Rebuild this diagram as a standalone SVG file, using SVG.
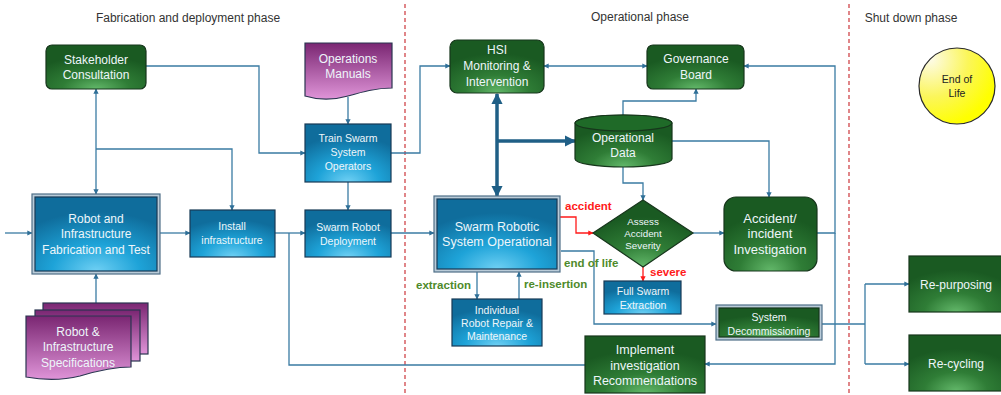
<svg xmlns="http://www.w3.org/2000/svg" width="1001" height="395" viewBox="0 0 1001 395">
<defs>
<radialGradient id="gG" cx="50%" cy="100%" r="75%" fx="50%" fy="100%">
<stop offset="0" stop-color="#63b86a"/><stop offset="0.45" stop-color="#2f7d36"/><stop offset="1" stop-color="#1a5a22"/>
</radialGradient>
<radialGradient id="bG" cx="50%" cy="100%" r="80%" fx="50%" fy="100%">
<stop offset="0" stop-color="#6fd0f4"/><stop offset="0.45" stop-color="#1ea3d8"/><stop offset="1" stop-color="#0f6d9c"/>
</radialGradient>
<linearGradient id="pG" x1="0" y1="0" x2="0" y2="1">
<stop offset="0" stop-color="#7a2672"/><stop offset="1" stop-color="#df94d8"/>
</linearGradient>
<radialGradient id="yG" cx="15%" cy="15%" r="90%">
<stop offset="0" stop-color="#fdfbe8"/><stop offset="0.55" stop-color="#fbf65a"/><stop offset="1" stop-color="#ffff00"/>
</radialGradient>
<marker id="a" viewBox="0 0 10 10" refX="9" refY="5" markerWidth="4" markerHeight="4" orient="auto-start-reverse"><path d="M0,0 L10,5 L0,10 Z" fill="#2f6f97"/></marker>
<marker id="r" viewBox="0 0 10 10" refX="9" refY="5" markerWidth="4" markerHeight="4" orient="auto-start-reverse"><path d="M0,0 L10,5 L0,10 Z" fill="#ff1a1a"/></marker>
<marker id="t" viewBox="0 0 10 10" refX="9" refY="5" markerWidth="3.2" markerHeight="3.2" orient="auto-start-reverse"><path d="M0,0 L10,5 L0,10 Z" fill="#1f5f86"/></marker>
<style>
text{font-family:"Liberation Sans",Arial,sans-serif;text-anchor:middle}
.w{fill:#eef6fa;font-size:12px}
.ws{fill:#eef6fa;font-size:10.5px}
.gn{fill:url(#gG);stroke:#17361c;stroke-width:1.2}
.bl{fill:url(#bG);stroke:#183a55;stroke-width:1.2}
.pu{fill:url(#pG);stroke:#2a3550;stroke-width:1.2}
.c{fill:none;stroke:#3a7ba3;stroke-width:1.3}
.cr{fill:none;stroke:#ff1a1a;stroke-width:1.3}
.ct{fill:none;stroke:#1f5f86;stroke-width:3.5}
.ph{fill:#333;font-size:12px}
.lg{fill:#4e8a2b;font-size:11.5px;font-weight:bold;text-anchor:start}
.lr{fill:#ff1a1a;font-size:11.5px;font-weight:bold;text-anchor:start}
.dl{stroke:#d0454a;stroke-width:1.3;stroke-dasharray:4 3}
.ob{fill:#b9cbd8;stroke:#4f6f88;stroke-width:1.2}
</style>
</defs>
<rect width="1001" height="395" fill="#fff"/>
<line class="dl" x1="405" y1="4" x2="405" y2="395"/>
<line class="dl" x1="849" y1="4" x2="849" y2="395"/>
<text class="ph" x="188" y="22">Fabrication and deployment phase</text>
<text class="ph" x="640" y="21">Operational phase</text>
<text class="ph" x="911" y="22">Shut down phase</text>

<g id="connectors">
<path class="c" d="M5,233 H32" marker-end="url(#a)"/>
<path class="c" d="M160,233 H190" marker-end="url(#a)"/>
<path class="c" d="M96,89 V194" marker-start="url(#a)" marker-end="url(#a)"/>
<path class="c" d="M96,149 H232 V210" marker-end="url(#a)"/>
<path class="c" d="M96,303 V274" marker-end="url(#a)"/>
<path class="c" d="M146,66 H259 V153 H305" marker-end="url(#a)"/>
<path class="c" d="M348,97 V124" marker-end="url(#a)"/>
<path class="c" d="M348,182 V210" marker-end="url(#a)"/>
<path class="c" d="M275,233 H305" marker-end="url(#a)"/>
<path class="c" d="M585,365 H289 V233"/>
<path class="c" d="M391,153 H420 V66 H450" marker-end="url(#a)"/>
<path class="c" d="M391,233 H434" marker-end="url(#a)"/>
<path class="c" d="M544,66 H647" marker-start="url(#a)" marker-end="url(#a)"/>
<path class="ct" d="M497,94 V196" marker-start="url(#t)" marker-end="url(#t)"/>
<path class="ct" d="M497,141 H575" marker-end="url(#t)"/>
<path class="c" d="M623,115 V101 H696 V89" marker-end="url(#a)"/>
<path class="c" d="M672,141 H769 V197" marker-end="url(#a)"/>
<path class="c" d="M623,167 V183 H643 V200" marker-end="url(#a)"/>
<path class="cr" d="M560,217 H576 V233 H593" marker-end="url(#r)"/>
<path class="c" d="M693,233 H724" marker-end="url(#a)"/>
<path class="cr" d="M643,267 V281" marker-end="url(#r)"/>
<path class="c" d="M561,251 H594 V324 H716" marker-end="url(#a)"/>
<path class="c" d="M817,233 H835 V66 H744" marker-end="url(#a)"/>
<path class="c" d="M835,233 V364 H705" marker-end="url(#a)"/>
<path class="c" d="M477,272 V299" marker-end="url(#a)"/>
<path class="c" d="M519,299 V272" marker-end="url(#a)"/>
<path class="c" d="M822,324 H865"/>
<path class="c" d="M865,284 V364"/>
<path class="c" d="M865,284 H909" marker-end="url(#a)"/>
<path class="c" d="M865,364 H909" marker-end="url(#a)"/>
</g>

<g id="stakeholder">
<rect class="gn" x="46" y="45" width="100" height="44" rx="6"/>
<text class="w" x="96" y="64">Stakeholder</text><text class="w" x="96" y="79">Consultation</text>
</g>
<g id="ops-manuals">
<path class="pu" d="M305,43 H392 V88 C376,88 362,92 348,96 C334,100 318,100 305,96 Z"/>
<text class="w" x="348" y="63">Operations</text><text class="w" x="348" y="78">Manuals</text>
</g>
<g id="train">
<rect class="bl" x="305" y="124" width="86" height="58"/>
<text class="ws" x="348" y="142">Train Swarm</text><text class="ws" x="348" y="156">System</text><text class="ws" x="348" y="170">Operators</text>
</g>
<g id="fabrication">
<rect class="ob" x="32" y="194" width="128" height="80"/>
<rect class="bl" x="35" y="197" width="122" height="74" stroke="#0f2c42" stroke-width="2"/>
<text class="w" x="96" y="223">Robot and</text><text class="w" x="96" y="238">Infrastructure</text><text class="w" x="96" y="254">Fabrication and Test</text>
</g>
<g id="install">
<rect class="bl" x="190" y="210" width="85" height="47"/>
<text class="ws" x="232" y="230">Install</text><text class="ws" x="232" y="244">infrastructure</text>
</g>
<g id="deployment">
<rect class="bl" x="305" y="210" width="86" height="47"/>
<text class="ws" x="348" y="231">Swarm Robot</text><text class="ws" x="348" y="245">Deployment</text>
</g>
<g id="specifications">
<rect class="pu" x="43" y="303" width="105" height="51"/>
<rect class="pu" x="35" y="310" width="105" height="51"/>
<path class="pu" d="M26,316 H131 V367 C115,367 100,370 80,376 C60,381 42,380 26,377 Z"/>
<text class="w" x="78" y="336">Robot &amp;</text><text class="w" x="78" y="351">Infrastructure</text><text class="w" x="78" y="367">Specifications</text>
</g>
<g id="hsi">
<rect class="gn" x="450" y="40" width="94" height="53" rx="7"/>
<text class="w" x="497" y="54">HSI</text><text class="w" x="497" y="70">Monitoring &amp;</text><text class="w" x="497" y="86">Intervention</text>
</g>
<g id="governance">
<rect class="gn" x="647" y="45" width="97" height="44" rx="6"/>
<text class="w" x="696" y="63">Governance</text><text class="w" x="696" y="79">Board</text>
</g>
<g id="operational-data">
<path class="gn" d="M575,123 V159 A48.5,8 0 0 0 672,159 V123 A48.5,8 0 0 0 575,123 Z"/>
<ellipse cx="623.5" cy="123" rx="48.5" ry="8" fill="#1f6a28" stroke="#17361c" stroke-width="1.2"/>
<text class="w" x="623" y="142">Operational</text><text class="w" x="623" y="157">Data</text>
</g>
<g id="swarm-operational">
<rect class="ob" x="434" y="196" width="126" height="76"/>
<rect class="bl" x="437" y="199" width="120" height="70" stroke="#0f2c42" stroke-width="2"/>
<text class="w" x="497" y="231" style="font-size:12.5px">Swarm Robotic</text><text class="w" x="497" y="246" style="font-size:12.5px">System Operational</text>
</g>
<g id="assess">
<path d="M643,200 L693,233 L643,267 L593,233 Z" fill="url(#gG)" stroke="#17361c" stroke-width="1.2"/>
<text class="w" x="643" y="225" style="font-size:9.8px">Assess</text><text class="w" x="643" y="237" style="font-size:9.8px">Accident</text><text class="w" x="643" y="249" style="font-size:9.8px">Severity</text>
</g>
<g id="accident-investigation">
<rect class="gn" x="724" y="197" width="93" height="74" rx="12"/>
<text class="w" x="770" y="223" style="font-size:13px">Accident/</text><text class="w" x="770" y="238" style="font-size:13px">incident</text><text class="w" x="770" y="254" style="font-size:13px">Investigation</text>
</g>
<g id="full-extraction">
<rect class="bl" x="604" y="281" width="77" height="33"/>
<text class="ws" x="643" y="295">Full Swarm</text><text class="ws" x="643" y="309">Extraction</text>
</g>
<g id="repair">
<rect class="bl" x="452" y="299" width="90" height="47"/>
<text class="ws" x="497" y="314">Individual</text><text class="ws" x="497" y="327">Robot Repair &amp;</text><text class="ws" x="497" y="340">Maintenance</text>
</g>
<g id="decommissioning">
<rect class="ob" x="716" y="305" width="106" height="35"/>
<rect class="gn" x="719" y="308" width="100" height="29" stroke="#0f2c18" stroke-width="2"/>
<text class="ws" x="769" y="321">System</text><text class="ws" x="769" y="335">Decommissioning</text>
</g>
<g id="implement">
<rect class="gn" x="585" y="336" width="120" height="57"/>
<text class="w" x="645" y="354" style="font-size:12.5px">Implement</text><text class="w" x="645" y="370" style="font-size:12.5px">investigation</text><text class="w" x="645" y="385" style="font-size:12.5px">Recommendations</text>
</g>
<g id="end-of-life">
<circle cx="957" cy="86" r="38" fill="url(#yG)" stroke="#2a2a2a" stroke-width="1.2"/>
<text x="957" y="83" style="font-size:10.5px;fill:#222">End of</text><text x="957" y="97" style="font-size:10.5px;fill:#222">Life</text>
</g>
<g id="repurposing">
<rect class="gn" x="909" y="256" width="94" height="56"/>
<text class="w" x="956" y="289">Re-purposing</text>
</g>
<g id="recycling">
<rect class="gn" x="909" y="335" width="94" height="56"/>
<text class="w" x="956" y="368">Re-cycling</text>
</g>
<g id="labels">
<text class="lr" x="565" y="210">accident</text>
<text class="lr" x="650" y="276">severe</text>
<text class="lg" x="564" y="267">end of life</text>
<text class="lg" x="416" y="289">extraction</text>
<text class="lg" x="524" y="288">re-insertion</text>
</g>
</svg>
